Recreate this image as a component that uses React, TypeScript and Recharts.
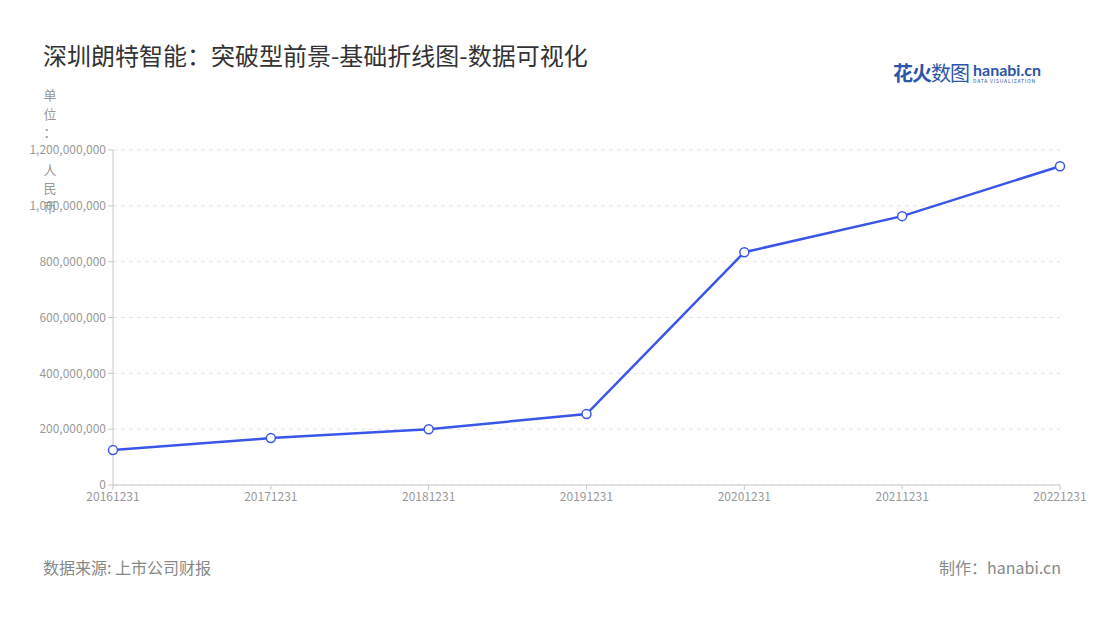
import { CartesianGrid, Line, LineChart, XAxis, YAxis } from "recharts";

const years = ["20161231", "20171231", "20181231", "20191231", "20201231", "20211231", "20221231"];
const revenue = [125000000, 168000000, 200000000, 254000000, 834000000, 963000000, 1142000000];
const yTicks = [0, 200000000, 400000000, 600000000, 800000000, 1000000000, 1200000000];
const unitLines = ["单", "位", "：", "", "人", "民", "币"];

const data = years.map((d, i) => ({ date: d, value: revenue[i] }));

const font = '"Noto Sans CJK SC", "Noto Sans", sans-serif';
const blue = "#3a56e8";

const App = () => {
  return (
    <div style={{ position: "absolute", left: 0, top: 0, width: 1100, height: 620, background: "#fff", fontFamily: font }}>
      <div style={{ position: "absolute", left: 43, top: 37, fontSize: 24, color: "#333" }}>
        深圳朗特智能：突破型前景-基础折线图-数据可视化
      </div>
      <div style={{ position: "absolute", left: 893, top: 58, display: "flex", alignItems: "center" }}>
        <span style={{ fontSize: 20, color: "#2d55a8", fontWeight: 700, letterSpacing: -1 }}>花火</span>
        <span style={{ fontSize: 20, color: "#2d55a8", letterSpacing: -1 }}>数图</span>
        <div style={{ marginLeft: 4, display: "flex", flexDirection: "column", lineHeight: 1 }}>
          <span style={{ fontSize: 16, color: "#2d55a8", fontWeight: 700, fontFamily: "Lato, sans-serif" }}>hanabi.cn</span>
          <span style={{ fontSize: 5, color: "#2d55a8", letterSpacing: 0.8 }}>DATA VISUALIZATION</span>
        </div>
      </div>
      <div style={{ position: "absolute", left: 42, top: 86, width: 16, textAlign: "center", fontSize: 13, color: "#999", lineHeight: "18.7px", zIndex: 2 }}>
        {unitLines.map((c, i) => (
          <div key={i} style={{ height: 18.7 }}>{c}</div>
        ))}
      </div>
      <LineChart width={1100} height={620} data={data} margin={{ top: 150, right: 40, bottom: 105, left: 0 }}>
        <CartesianGrid vertical={false} stroke="#e3e3e3" strokeDasharray="4 4" />
        <XAxis
          dataKey="date"
          height={30}
          stroke="#c8c8c8"
          tick={{ fill: "#999", fontSize: 12, fontFamily: font }}
          tickLine={{ stroke: "#c8c8c8" }}
          tickSize={5}
          interval={0}
        />
        <YAxis
          width={113}
          domain={[0, 1200000000]}
          ticks={yTicks}
          stroke="#c8c8c8"
          tick={{ fill: "#999", fontSize: 12, fontFamily: font }}
          tickSize={5}
          tickFormatter={(v: number) => v.toLocaleString("en-US")}
        />
        <Line
          type="linear"
          dataKey="value"
          stroke={blue}
          strokeWidth={2.5}
          dot={{ r: 4.5, fill: "#fff", stroke: blue, strokeWidth: 1.5 }}
          isAnimationActive={false}
        />
      </LineChart>
      <div style={{ position: "absolute", left: 43, top: 555, fontSize: 16, color: "#888" }}>数据来源: 上市公司财报</div>
      <div style={{ position: "absolute", right: 39, top: 555, fontSize: 16, color: "#888" }}>制作：hanabi.cn</div>
    </div>
  );
};

export default App;
